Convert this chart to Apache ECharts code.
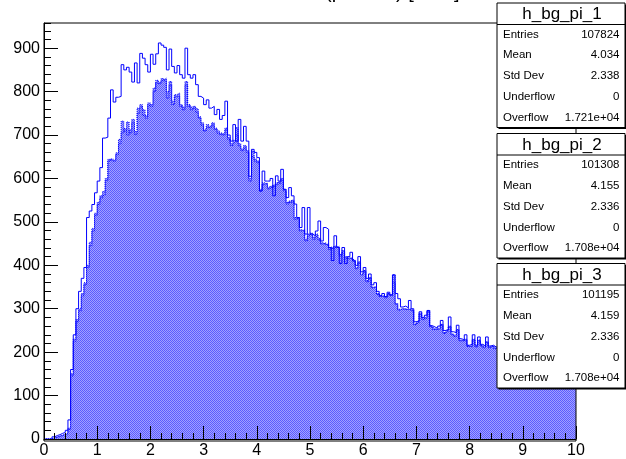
<!DOCTYPE html>
<html><head><meta charset="utf-8">
<script src="https://cdn.jsdelivr.net/npm/echarts@6/dist/echarts.min.js"></script>
<style>html,body{margin:0;padding:0;background:#fff;overflow:hidden}#c{width:626px;height:459px}</style>
</head><body><div id="c"></div>
<script>
// ---- data ----
const X_MIN = 0, X_MAX = 10, BIN_WIDTH = 0.05;
const Y_MIN = 0, Y_MAX = 958;
const xTickValues = [0,1,2,3,4,5,6,7,8,9,10];
const yTickValues = [0,100,200,300,400,500,600,700,800,900];
const titleText = '(p/mass) [GeV]';

const h1 = [
0,0,0,5,8,10,13,15,20,44,
160,240,300,340,370,395,510,525,540,567,
594,625,693,695,739,804,776,787,789,862,
850,856,845,822,866,820,888,877,862,845,
886,863,887,912,907,902,850,898,858,843,
860,839,831,900,839,831,839,816,789,785,
770,781,762,766,747,759,736,745,778,700,
686,724,686,736,686,720,686,605,667,660,
648,571,617,594,594,600,560,606,594,621,
575,556,579,560,541,510,487,533,472,533,
472,468,479,502,456,487,483,441,411,468,
441,404,441,404,420,430,410,400,420,385,
395,370,380,355,360,340,330,335,328,338,
332,378,335,323,304,306,302,319,300,270,
272,293,280,285,296,261,258,255,260,273,
250,252,281,247,245,262,231,228,240,216,
218,240,216,235,218,214,235,214,216,212,
212,210,208,215,205,203,200,205,198,195,
200,192,190,195,188,185,190,182,180,185,
178,176,180,173,172,175,170,168,172,165];

const h2 = [
0,0,0,3,5,6,8,10,12,25,
150,230,270,300,330,360,400,453,479,520,
540,560,562,600,644,640,644,659,680,732,
709,730,705,736,701,762,766,758,739,774,
766,808,820,823,827,831,800,823,770,793,
797,766,762,823,766,762,762,760,739,728,
709,724,717,728,713,709,701,705,716,690,
680,684,717,675,668,672,664,594,663,640,
640,571,590,586,580,578,585,586,592,600,
571,541,548,546,510,506,479,482,456,472,
470,465,468,462,449,452,447,440,438,444,
440,425,430,420,415,418,410,395,405,380,
385,365,370,350,350,335,328,330,325,335,
330,378,310,299,299,300,298,300,295,265,
268,290,275,280,296,258,254,252,255,262,
245,248,260,240,238,250,228,225,230,213,
214,230,212,228,214,212,222,212,213,210,
208,205,203,210,200,198,195,200,193,190,
195,188,185,190,183,180,185,178,175,180,
173,171,175,168,167,170,165,163,167,160];

const h3 = [
0,0,0,2,4,7,9,11,14,22,
145,225,275,295,335,355,395,445,485,515,
545,555,570,595,640,645,640,655,690,705,
715,700,712,728,708,750,770,745,745,768,
772,800,826,818,830,825,785,815,778,788,
790,770,758,815,770,758,766,752,742,722,
712,718,722,724,716,704,705,700,712,694,
676,688,700,680,664,676,660,600,650,645,
636,575,586,590,576,582,580,590,588,596,
575,545,544,550,506,510,482,478,460,468,
474,460,472,458,452,448,450,436,442,440,
444,422,434,416,418,414,412,392,408,378,
388,362,372,348,352,333,330,328,327,332,
332,360,312,297,301,298,300,298,297,263,
270,287,277,278,293,260,252,254,253,264,
243,250,258,242,236,252,226,227,228,215,
212,228,214,226,216,210,224,210,215,208,
210,203,205,208,202,196,197,198,195,188,
197,186,187,188,185,178,187,176,177,178,
175,169,177,166,169,168,167,161,169,158];

const statNames   = ['h_bg_pi_1','h_bg_pi_2','h_bg_pi_3'];
const statLabels  = ['Entries','Mean','Std Dev','Underflow','Overflow'];
const statEntries = ['107824','101308','101195'];
const statMean    = ['4.034','4.155','4.159'];
const statStd     = ['2.338','2.336','2.336'];
const statUnder   = ['0','0','0'];
const statOver    = ['1.721e+04','1.708e+04','1.708e+04'];

// ---- layout ----
const W = 626, H = 459;
const G = {left: 44, right: 50, top: 23, bottom: 18};
const FONT = '"Liberation Sans", Arial, Helvetica, sans-serif';
const BLUE = '#0000ff';

function stepData(vals){
  const d = vals.map((v,i)=>[X_MIN + i*BIN_WIDTH, v]);
  d.push([X_MIN + vals.length*BIN_WIDTH, vals[vals.length-1]]);
  return d;
}
// soft checkered fill (ROOT hatch style look)
const pc = document.createElement('canvas');
pc.width = 2; pc.height = 2;
const pg = pc.getContext('2d');
pg.fillStyle = '#a2a2ff'; pg.fillRect(0,0,2,2);
pg.fillStyle = '#5c5cff'; pg.fillRect(0,0,1,1); pg.fillRect(1,1,1,1);
const pattern = {image: pc, repeat: 'repeat'};

// stats boxes
const boxTops = [3, 133.5, 263.5];
const BOX_X = 497, BOX_W = 128, BOX_H = 124.5, TITLE_H = 21.5;
const rowOffsets = [31.5, 52.3, 73.1, 93.9, 114.7];
const graphics = [];
// main title (mostly cut off at top edge)
graphics.push({type:'text', left: 325, top: -18, z: 60,
  style:{text: titleText, font: '20px ' + FONT, fill:'#000'}});
// frame
graphics.push({type:'rect', z: 50, silent:true,
  shape:{x: G.left, y: G.top, width: W - G.left - G.right, height: H - G.top - G.bottom},
  style:{fill:'none', stroke:'#000', lineWidth:1}});
for (let k = 0; k < 3; k++) {
  const t = boxTops[k];
  const vals = [statEntries[k], statMean[k], statStd[k], statUnder[k], statOver[k]];
  graphics.push({type:'rect', z:100, shape:{x:BOX_X+1.5, y:t+1.5, width:BOX_W, height:BOX_H}, style:{fill:'#000'}});
  graphics.push({type:'rect', z:101, shape:{x:BOX_X, y:t, width:BOX_W, height:BOX_H}, style:{fill:'#fff', stroke:'#000', lineWidth:1}});
  graphics.push({type:'line', z:102, shape:{x1:BOX_X, y1:t+TITLE_H, x2:BOX_X+BOX_W, y2:t+TITLE_H}, style:{stroke:'#000', lineWidth:1}});
  graphics.push({type:'text', z:102, x: BOX_X + BOX_W/2 + 1, y: t + TITLE_H/2 + 1,
    style:{text: statNames[k], font:'17px ' + FONT, fill:'#000', align:'center', verticalAlign:'middle'}});
  for (let r = 0; r < 5; r++) {
    graphics.push({type:'text', z:102, x: BOX_X + 6, y: t + rowOffsets[r],
      style:{text: statLabels[r], font:'11.5px ' + FONT, fill:'#000', align:'left', verticalAlign:'middle'}});
    graphics.push({type:'text', z:102, x: BOX_X + BOX_W - 5.5, y: t + rowOffsets[r],
      style:{text: vals[r], font:'11.5px ' + FONT, fill:'#000', align:'right', verticalAlign:'middle'}});
  }
}

const chart = echarts.init(document.getElementById('c'), null, {renderer:'canvas', width: W, height: H});
const axisCommon = {
  axisLine:{show:true, lineStyle:{color:'#000', width:1}},
  splitLine:{show:false}, minorSplitLine:{show:false}
};
chart.setOption({
  animation: false,
  backgroundColor: '#fff',
  grid: {left: G.left, right: G.right, top: G.top, bottom: G.bottom, containLabel: false, show: false},
  xAxis: [{
    type:'value', min: X_MIN, max: X_MAX, interval: 1, z: 10, ...axisCommon,
    axisTick:{show:true, inside:true, length:13, lineStyle:{color:'#000'}},
    minorTick:{show:true, splitNumber:5, length:6, lineStyle:{color:'#000'}},
    axisLabel:{color:'#000', fontFamily: FONT, fontSize:16, margin:4,
      formatter: v => xTickValues.includes(Math.round(v*1000)/1000) ? String(Math.round(v)) : ''}
  }],
  yAxis: [{
    type:'value', min: Y_MIN, max: Y_MAX, interval: 100, z: 10, position:'left', ...axisCommon,
    axisTick:{show:true, inside:true, length:14, lineStyle:{color:'#000'}},
    axisLabel:{color:'#000', fontFamily: FONT, fontSize:16, margin:4, showMaxLabel:false,
      formatter: v => yTickValues.includes(v) ? String(v) : ''}
  },{
    type:'value', min: Y_MIN, max: Y_MAX, interval: 20, z: 10, position:'left', offset: 0,
    axisLine:{show:false}, splitLine:{show:false},
    axisTick:{show:true, inside:true, length:7, lineStyle:{color:'#000'}},
    axisLabel:{show:false}
  }],
  series: [
    {name:'h_bg_pi_2', type:'line', step:'end', data: stepData(h2), showSymbol:false, symbol:'none',
      lineStyle:{color:BLUE, width:1, type:'dotted'}, areaStyle:{color: pattern, opacity:1}, itemStyle:{color:BLUE}, silent:true},
    {name:'h_bg_pi_3', type:'line', step:'end', data: stepData(h3), showSymbol:false, symbol:'none',
      lineStyle:{color:BLUE, width:1, type:'dotted'}, areaStyle:{color: pattern, opacity:1}, itemStyle:{color:BLUE}, silent:true},
    {name:'h_bg_pi_1', type:'line', step:'end', data: stepData(h1), showSymbol:false, symbol:'none',
      lineStyle:{color:BLUE, width:1}, itemStyle:{color:BLUE}, silent:true}
  ],
  graphic: graphics
});
</script>
</body></html>
